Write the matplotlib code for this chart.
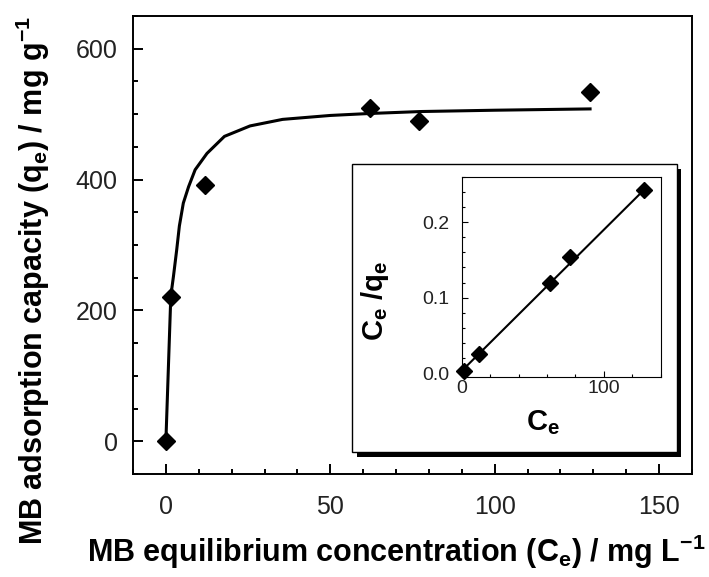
import matplotlib
matplotlib.use('Agg')
import matplotlib.pyplot as plt
from matplotlib.patches import Rectangle
from matplotlib.ticker import MultipleLocator, FormatStrFormatter

# ===================== data =====================
# main plot: MB equilibrium concentration vs adsorption capacity
ce = [0, 1.5, 12, 62, 77, 129]
qe = [0, 220, 392, 510, 489, 534]

# fitted isotherm curve
fit_ce = [0, 1.5, 2.3, 3.3, 4.1, 5.3, 6.9, 8.9, 12.5, 17.8, 25.6, 35.5, 50, 62, 77.6, 100, 129]
fit_qe = [0, 222, 252, 293, 329, 364, 389, 415, 440, 466, 482, 492, 498, 501, 504, 506, 508]

# inset: linearised form Ce/qe vs Ce
ins_ce = [1.5, 12, 62, 76.5, 128.5]
ins_ratio = [0.003, 0.026, 0.119, 0.154, 0.242]
ins_fit_ce = [0, 129]
ins_fit_ratio = [0.003, 0.244]

plt.rcParams['font.family'] = ['Liberation Sans', 'DejaVu Sans']
plt.rcParams['mathtext.fontset'] = 'custom'
plt.rcParams['mathtext.rm'] = 'Liberation Sans:bold'
plt.rcParams['mathtext.it'] = 'Liberation Sans:bold'
plt.rcParams['mathtext.bf'] = 'Liberation Sans:bold'

W, H = 709, 577
fig = plt.figure(figsize=(W / 100, H / 100), dpi=100)


def fx(px):
    return px / W


def fy(py):
    return 1 - py / H


# ===================== main axes =====================
ax = fig.add_axes([fx(133), fy(474), fx(692) - fx(133), fy(16) - fy(474)])
ax.plot(fit_ce, fit_qe, color='black', lw=2.2, zorder=2)
ax.plot(ce, qe, 'D', color='black', ms=9.5, mew=1, zorder=3, clip_on=False)
ax.set_xlim(-10, 160)
ax.set_ylim(-50, 650)
ax.xaxis.set_major_locator(MultipleLocator(50))
ax.xaxis.set_minor_locator(MultipleLocator(10))
ax.yaxis.set_major_locator(MultipleLocator(200))
ax.yaxis.set_minor_locator(MultipleLocator(50))
ax.tick_params(which='both', direction='in', width=1.4, colors='black')
ax.tick_params(which='major', length=7)
ax.tick_params(which='minor', length=3.5)
ax.tick_params(axis='x', which='major', pad=15, labelsize=18, labelcolor='#222222')
ax.tick_params(axis='y', which='major', pad=11, labelsize=18, labelcolor='#222222')
for s in ax.spines.values():
    s.set_linewidth(1.4)

fig.text(fx(396), fy(562), r'MB equilibrium concentration (C$_\mathrm{e}$) / mg L$^\mathrm{-1}$',
         fontsize=22, fontweight='bold', ha='center', va='baseline')
fig.text(fx(43), fy(281), r'MB adsorption capacity (q$_\mathrm{e}$) / mg g$^\mathrm{-1}$',
         fontsize=22, fontweight='bold', ha='center', va='baseline',
         rotation=90, rotation_mode='anchor')

# ===================== inset frame with shadow =====================
fw = fx(676.7) - fx(352)
fh = fy(164) - fy(452)
fig.add_artist(Rectangle((fx(356.5), fy(456.5)), fw, fh, transform=fig.transFigure,
                         facecolor='black', edgecolor='black', lw=0, zorder=2))
fig.add_artist(Rectangle((fx(352), fy(452)), fw, fh, transform=fig.transFigure,
                         facecolor='white', edgecolor='black', lw=1.0, zorder=3))

# ===================== inset axes =====================
ins = fig.add_axes([fx(461.7), fy(377), fx(660.7) - fx(461.7), fy(176.7) - fy(377)])
ins.set_zorder(5)
ins.plot(ins_fit_ce, ins_fit_ratio, color='black', lw=1.5, zorder=2)
ins.plot(ins_ce, ins_ratio, 'D', color='black', ms=8.5, mew=1, zorder=3, clip_on=False)
ins.set_xlim(0, 140)
ins.set_ylim(-0.005, 0.26)
ins.xaxis.set_major_locator(MultipleLocator(100))
ins.xaxis.set_minor_locator(MultipleLocator(20))
ins.yaxis.set_major_locator(MultipleLocator(0.1))
ins.yaxis.set_minor_locator(MultipleLocator(0.02))
ins.yaxis.set_major_formatter(FormatStrFormatter('%.1f'))
ins.tick_params(which='both', direction='in', width=0.8, colors='black')
ins.tick_params(which='major', length=4.5)
ins.tick_params(which='minor', length=2.5)
ins.tick_params(axis='x', which='major', pad=2.5, labelsize=14, labelcolor='#222222')
ins.tick_params(axis='y', which='major', pad=9, labelsize=14, labelcolor='#222222')
for s in ins.spines.values():
    s.set_linewidth(0.8)

fig.text(fx(543), fy(430), r'C$_\mathrm{e}$', fontsize=21, fontweight='bold',
         ha='center', va='baseline', zorder=6)
fig.text(fx(383), fy(301), r'C$_\mathrm{e}$ /q$_\mathrm{e}$', fontsize=21, fontweight='bold',
         ha='center', va='baseline', rotation=90, rotation_mode='anchor', zorder=6)

fig.savefig('out.png', dpi=100)
